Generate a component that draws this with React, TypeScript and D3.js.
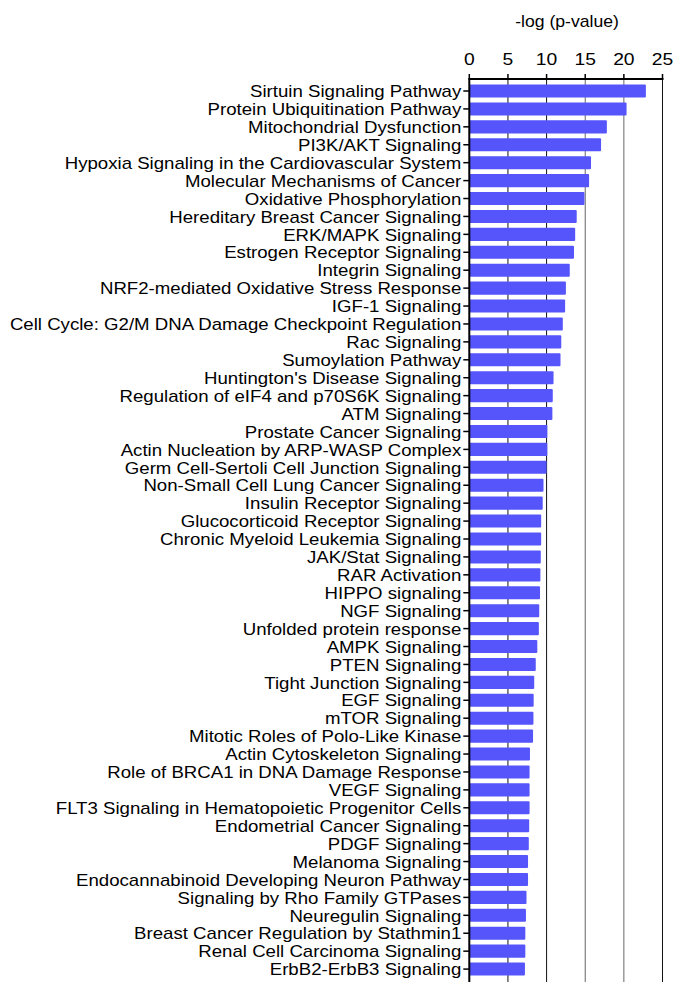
import React from "react";
import * as d3 from "d3";

const categories: string[] = [
  "Sirtuin Signaling Pathway",
  "Protein Ubiquitination Pathway",
  "Mitochondrial Dysfunction",
  "PI3K/AKT Signaling",
  "Hypoxia Signaling in the Cardiovascular System",
  "Molecular Mechanisms of Cancer",
  "Oxidative Phosphorylation",
  "Hereditary Breast Cancer Signaling",
  "ERK/MAPK Signaling",
  "Estrogen Receptor Signaling",
  "Integrin Signaling",
  "NRF2-mediated Oxidative Stress Response",
  "IGF-1 Signaling",
  "Cell Cycle: G2/M DNA Damage Checkpoint Regulation",
  "Rac Signaling",
  "Sumoylation Pathway",
  "Huntington's Disease Signaling",
  "Regulation of eIF4 and p70S6K Signaling",
  "ATM Signaling",
  "Prostate Cancer Signaling",
  "Actin Nucleation by ARP-WASP Complex",
  "Germ Cell-Sertoli Cell Junction Signaling",
  "Non-Small Cell Lung Cancer Signaling",
  "Insulin Receptor Signaling",
  "Glucocorticoid Receptor Signaling",
  "Chronic Myeloid Leukemia Signaling",
  "JAK/Stat Signaling",
  "RAR Activation",
  "HIPPO signaling",
  "NGF Signaling",
  "Unfolded protein response",
  "AMPK Signaling",
  "PTEN Signaling",
  "Tight Junction Signaling",
  "EGF Signaling",
  "mTOR Signaling",
  "Mitotic Roles of Polo-Like Kinase",
  "Actin Cytoskeleton Signaling",
  "Role of BRCA1 in DNA Damage Response",
  "VEGF Signaling",
  "FLT3 Signaling in Hematopoietic Progenitor Cells",
  "Endometrial Cancer Signaling",
  "PDGF Signaling",
  "Melanoma Signaling",
  "Endocannabinoid Developing Neuron Pathway",
  "Signaling by Rho Family GTPases",
  "Neuregulin Signaling",
  "Breast Cancer Regulation by Stathmin1",
  "Renal Cell Carcinoma Signaling",
  "ErbB2-ErbB3 Signaling",
];

const values: number[] = [
  22.85, 20.35, 17.8, 17.05, 15.75, 15.5, 14.9, 13.9, 13.7, 13.55,
  13.0, 12.5, 12.4, 12.1, 11.9, 11.8, 10.9, 10.8, 10.75, 10.1,
  10.1, 10.0, 9.6, 9.5, 9.3, 9.3, 9.25, 9.2, 9.15, 9.05,
  9.0, 8.8, 8.6, 8.4, 8.33, 8.3, 8.25, 7.85, 7.8, 7.8,
  7.8, 7.75, 7.7, 7.6, 7.6, 7.4, 7.33, 7.25, 7.25, 7.2,
];

const xTicks: number[] = [0, 5, 10, 15, 20, 25];
const axisTitle = "-log (p-value)";

const W = 674;
const H = 982;
const x0 = 469.3;
const axisY = 79;

export default function App() {
  const x = d3.scaleLinear().domain([0, 25]).range([x0, 662.5]);
  const step = 17.92;
  const y = d3
    .scaleBand<string>()
    .domain(categories)
    .range([91 - step / 2, 91 - step / 2 + step * categories.length])
    .paddingInner(0.27)
    .paddingOuter(0.135);

  const font = "'Liberation Sans', Arial, sans-serif";

  return (
    <svg
      width={W}
      height={H}
      style={{ position: "absolute", left: 0, top: 0, background: "#fff" }}
      fontFamily={font}
    >
      <text
        transform={`translate(567,27) scale(1.1,1)`}
        fontSize={16}
        textAnchor="middle"
        fill="#000"
      >
        {axisTitle}
      </text>
      {xTicks.map((t) => (
        <g key={t}>
          {t > 0 && (
            <line
              x1={x(t)}
              x2={x(t)}
              y1={axisY}
              y2={H}
              stroke={t === 15 || t === 20 ? "#666" : "#111"}
              strokeWidth={1}
            />
          )}
          <line x1={x(t)} x2={x(t)} y1={axisY - 5} y2={axisY} stroke="#000" strokeWidth={1.5} />
          <text
            transform={`translate(${x(t)},65) scale(1.17,1)`}
            fontSize={16.5}
            textAnchor="middle"
            fill="#000"
          >
            {t}
          </text>
        </g>
      ))}
      {categories.map((c, i) => {
        const yb = y(c)!;
        const bw = y.bandwidth();
        const cy = yb + bw / 2;
        return (
          <g key={c}>
            <rect
              x={x(0)}
              y={yb}
              width={x(values[i]) - x(0)}
              height={bw}
              fill="#5555fb"
              rx={1}
            />
            <line x1={x0 - 6} x2={x0} y1={cy} y2={cy} stroke="#000" strokeWidth={1.5} />
            <text
              transform={`translate(${x0 - 8},${cy + 6.2}) scale(1.165,1)`}
              fontSize={16}
              textAnchor="end"
              fill="#000"
            >
              {c}
            </text>
          </g>
        );
      })}
      <line x1={x0 - 0.7} x2={x(25) + 1} y1={axisY} y2={axisY} stroke="#000" strokeWidth={2} />
      <line x1={x0} x2={x0} y1={axisY - 1} y2={H} stroke="#000" strokeWidth={2} />
    </svg>
  );
}
